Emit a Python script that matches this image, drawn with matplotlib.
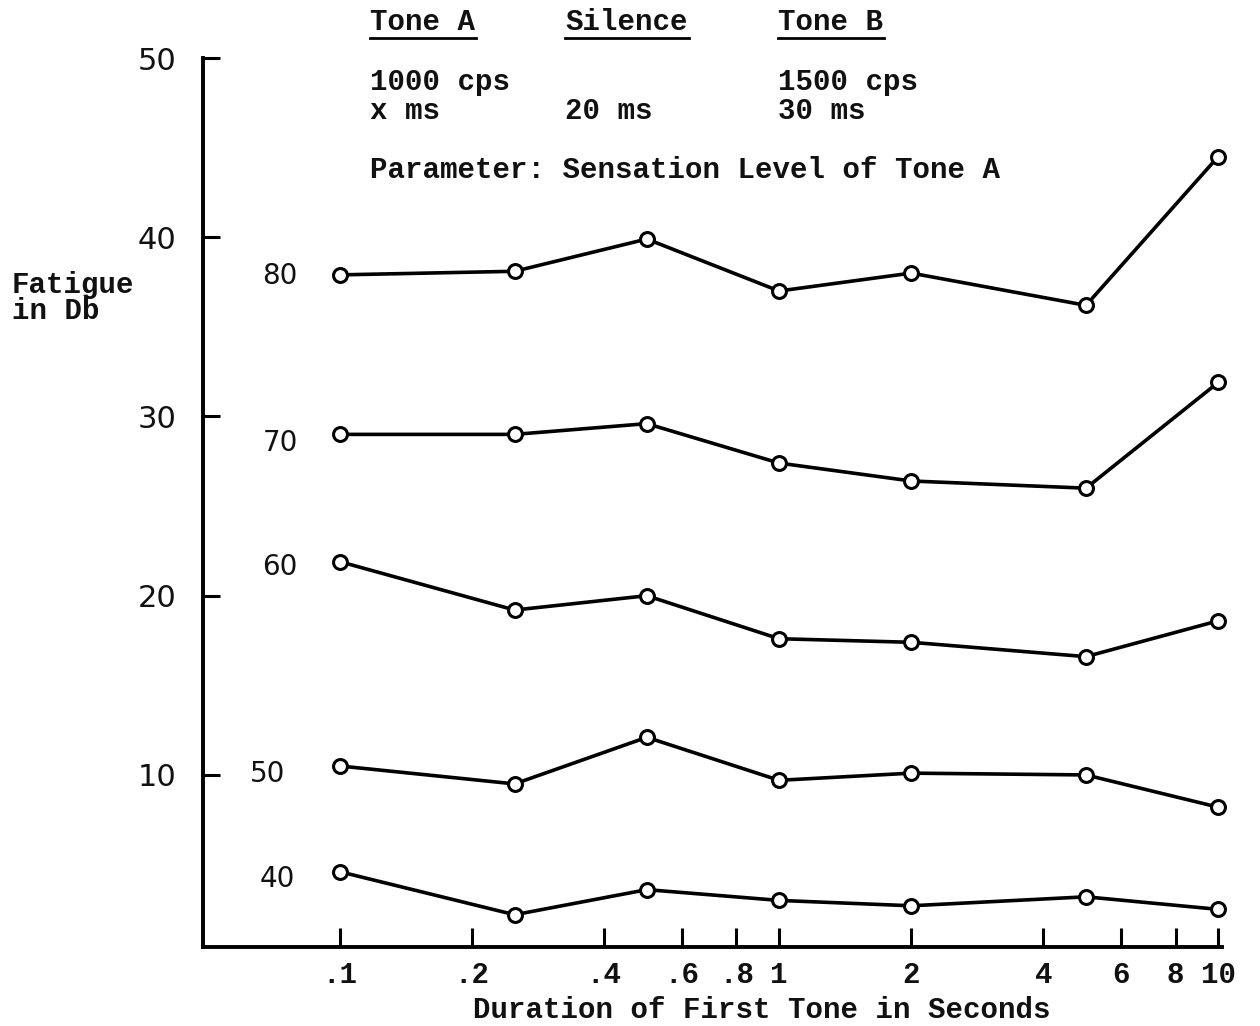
import numpy as np
import matplotlib
matplotlib.use('Agg')
import matplotlib.pyplot as plt

# duration of the first tone (s) and fatigue (dB) for each sensation level
durations = [0.1, 0.25, 0.5, 1, 2, 5, 10]
levels = ['80', '70', '60', '50', '40']
fatigue_80 = [37.9, 38.1, 39.9, 37.0, 38.0, 36.2, 44.5]
fatigue_70 = [29.0, 29.0, 29.6, 27.4, 26.4, 26.0, 31.9]
fatigue_60 = [21.9, 19.2, 20.0, 17.6, 17.4, 16.6, 18.6]
fatigue_50 = [10.5, 9.5, 12.1, 9.7, 10.1, 10.0, 8.2]
fatigue_40 = [4.6, 2.2, 3.6, 3.0, 2.7, 3.2, 2.5]

x_ticks = [0.1, 0.2, 0.4, 0.6, 0.8, 1, 2, 4, 6, 8, 10]
x_labels = ['.1', '.2', '.4', '.6', '.8', '1', '2', '4', '6', '8', '10']
y_ticks = [10, 20, 30, 40, 50]

mono = 'Liberation Mono'
hand = 'DejaVu Sans'
tw = dict(family=mono, fontsize=21, fontweight='bold', color='#111111')

fig = plt.figure(figsize=(12.6, 10.26), dpi=100)
ax = fig.add_axes([203/1260, 79/1026, 1019/1260, 889/1026])
ax.set_xscale('log')
ax.set_xlim(0.0488, 10.2)
ax.set_ylim(0.4, 50)

curves = [fatigue_80, fatigue_70, fatigue_60, fatigue_50, fatigue_40]
offsets = [(-43, -1), (-43, -6), (-43, -4), (-52, -6), (-45, -5)]
for lvl, vals, off in zip(levels, curves, offsets):
    ax.plot(durations, vals, color='black', lw=2.6, marker='o', ms=10,
            mfc='white', mec='black', mew=2.2, zorder=3, clip_on=False)
    ax.annotate(lvl, xy=(durations[0], vals[0]), xytext=off,
                textcoords='offset points', ha='center', va='center',
                fontsize=20, family=hand, color='#111111')

for side in ['top', 'right']:
    ax.spines[side].set_visible(False)
for side in ['left', 'bottom']:
    ax.spines[side].set_linewidth(2.8)

ax.set_xticks(x_ticks)
ax.set_xticklabels(x_labels, **tw)
ax.xaxis.set_minor_locator(matplotlib.ticker.NullLocator())
ax.tick_params(axis='x', direction='in', length=14, width=2.2, pad=10)

ax.set_yticks(y_ticks)
ax.set_yticklabels([str(v) for v in y_ticks], family=hand, fontsize=22,
                   color='#111111')
ax.tick_params(axis='y', direction='in', length=12, width=2.2, pad=19)

fig.text(762/1260, 1 - 1010/1026, 'Duration of First Tone in Seconds',
         ha='center', va='center', **tw)
fig.text(12/1260, 1 - 298/1026, 'Fatigue\nin Db', ha='left', va='center',
         linespacing=0.9, **tw)

# header block describing the stimulus sequence
header = [(370, 'Tone A'), (565, 'Silence'), (778, 'Tone B')]
for xp, txt in header:
    fig.text(xp/1260, 1 - 22/1026, txt, ha='left', va='center', **tw)
    w = len(txt) * 17.7
    fig.add_artist(plt.Line2D([xp/1260, (xp + w)/1260],
                              [1 - 38/1026, 1 - 38/1026],
                              color='black', lw=2.0))

fig.text(370/1260, 1 - 82/1026, '1000 cps', va='center', **tw)
fig.text(370/1260, 1 - 111/1026, 'x ms', va='center', **tw)
fig.text(565/1260, 1 - 111/1026, '20 ms', va='center', **tw)
fig.text(778/1260, 1 - 82/1026, '1500 cps', va='center', **tw)
fig.text(778/1260, 1 - 111/1026, '30 ms', va='center', **tw)
fig.text(370/1260, 1 - 170/1026, 'Parameter: Sensation Level of Tone A',
         va='center', **tw)

fig.savefig('out.png', dpi=100, facecolor='white')
